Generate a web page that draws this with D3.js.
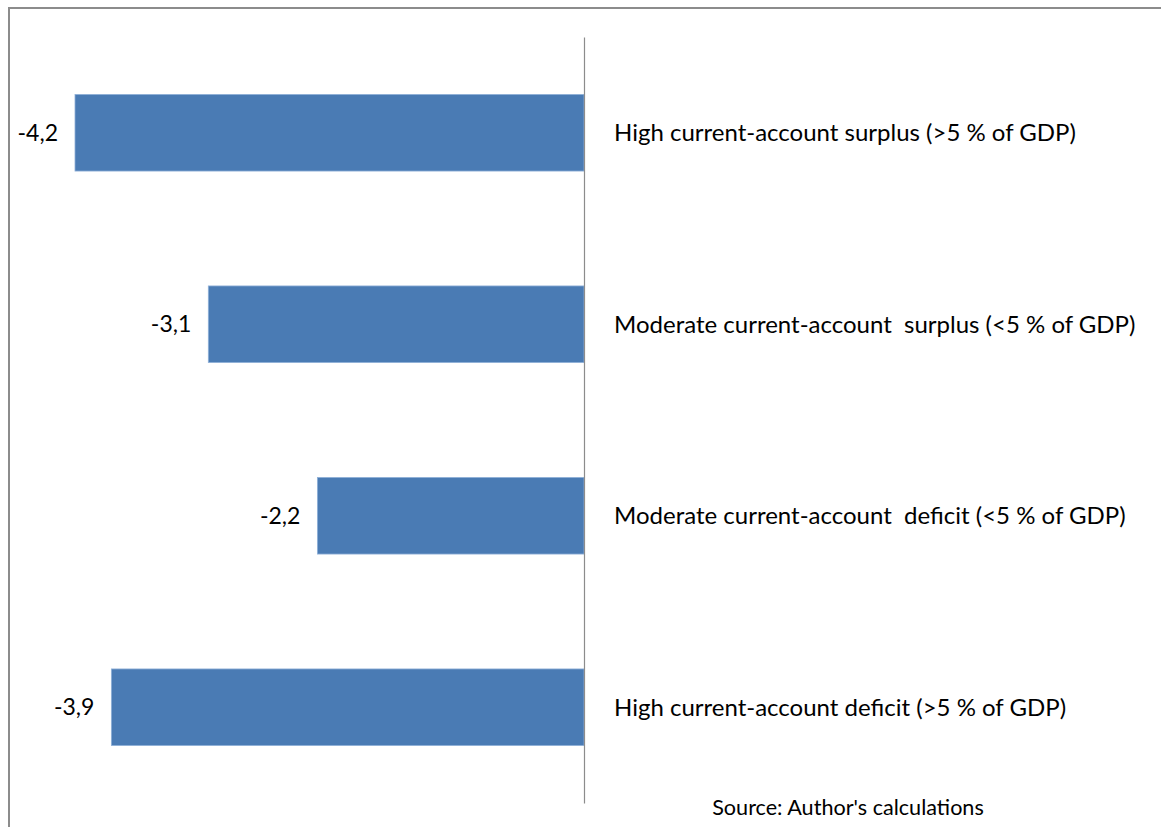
<!DOCTYPE html>
<html><head><meta charset="utf-8">
<script src="https://cdn.jsdelivr.net/npm/d3@7"></script>
<style>html,body{margin:0;padding:0;background:#fff;overflow:hidden}</style>
</head><body>
<svg id="c" width="1161" height="827"></svg>
<script>
const categories = [
  "High current-account surplus (>5 % of GDP)",
  "Moderate current-account  surplus (<5 % of GDP)",
  "Moderate current-account  deficit (<5 % of GDP)",
  "High current-account deficit (>5 % of GDP)"
];
const values = [-4.2, -3.1, -2.2, -3.9];
const valueLabels = ["-4,2", "-3,1", "-2,2", "-3,9"];
const sourceText = "Source: Author's calculations";

const svg = d3.select("#c");
const font = "Lato, 'Open Sans', sans-serif";

// outer frame
svg.append("rect").attr("x", 9).attr("y", 8).attr("width", 1170).attr("height", 840)
  .attr("fill", "none").attr("stroke", "#8c8c8c").attr("stroke-width", 2);

const x = d3.scaleLinear().domain([-4.2, 0]).range([75, 584]);
const y = d3.scaleBand().domain(categories).range([37, 803]).paddingInner(0.6).paddingOuter(0.3);

svg.selectAll("rect.bar").data(values).join("rect").attr("class", "bar")
  .attr("x", d => x(d)).attr("width", d => x(0) - x(d))
  .attr("y", (d, i) => y(categories[i])).attr("height", y.bandwidth())
  .attr("fill", "#4a7bb4").attr("stroke", "#8fb0d8").attr("stroke-width", 0.8);

// axis
const axis = svg.append("g").attr("transform", `translate(${x(0)},0)`)
  .call(d3.axisLeft(y).tickSize(0).tickFormat(""));
axis.select(".domain").attr("stroke", "#8c8c8c").attr("stroke-width", 1.2);

svg.selectAll("text.cat").data(categories).join("text").attr("class", "cat")
  .attr("x", x(0) + 30).attr("y", d => y(d) + y.bandwidth() / 2)
  .attr("dy", "0.35em").attr("font-family", font).attr("font-size", 24)
  .attr("fill", "#000").text(d => d).style("white-space", "pre");

svg.selectAll("text.val").data(values).join("text").attr("class", "val")
  .attr("x", d => x(d) - 17).attr("y", (d, i) => y(categories[i]) + y.bandwidth() / 2)
  .attr("dy", "0.35em").attr("text-anchor", "end").attr("font-family", font)
  .attr("font-size", 23).attr("fill", "#000").text((d, i) => valueLabels[i]);

svg.append("text").attr("x", 848).attr("y", 815).attr("text-anchor", "middle")
  .attr("font-family", font).attr("font-size", 21.6).attr("fill", "#000").text(sourceText);
</script>
</body></html>
